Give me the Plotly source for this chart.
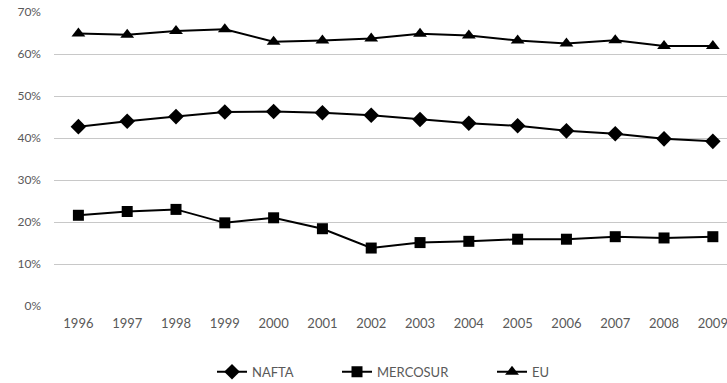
import plotly.graph_objects as go

years = ["1996","1997","1998","1999","2000","2001","2002","2003","2004","2005","2006","2007","2008","2009"]
nafta = [42.7, 44.0, 45.1, 46.2, 46.3, 46.0, 45.4, 44.4, 43.5, 42.9, 41.7, 41.0, 39.8, 39.2]
mercosur = [21.6, 22.5, 23.0, 19.8, 21.0, 18.4, 13.8, 15.1, 15.4, 15.9, 15.9, 16.5, 16.2, 16.5]
eu = [64.9, 64.6, 65.5, 65.9, 62.9, 63.2, 63.7, 64.8, 64.4, 63.2, 62.5, 63.3, 61.9, 61.9]
y_ticks = [0, 10, 20, 30, 40, 50, 60, 70]

x = list(range(len(years)))
fig = go.Figure()
series = [("NAFTA", nafta, "diamond", 12, "legend"),
          ("MERCOSUR", mercosur, "square", 11, "legend2"),
          ("EU", eu, "triangle-up", 12, "legend3")]
for name, vals, sym, size, lg in series:
    fig.add_trace(go.Scatter(x=x, y=vals, name=name, mode="lines+markers",
                             line=dict(color="black", width=2),
                             marker=dict(symbol=sym, size=size, color="black"),
                             legend=lg))

leg_common = dict(orientation="h", y=-0.224, yanchor="middle", xanchor="left",
                  font=dict(size=13, color="#595959"), bgcolor="rgba(0,0,0,0)")
fig.update_layout(
    width=727, height=383,
    margin=dict(l=54, r=0, t=12, b=77, autoexpand=False),
    paper_bgcolor="white", plot_bgcolor="white",
    font=dict(family="Lato, Liberation Sans, sans-serif", size=13, color="#595959"),
    showlegend=True,
    legend=dict(x=(212 - 54) / 673, **leg_common),
    legend2=dict(x=(337 - 54) / 673, **leg_common),
    legend3=dict(x=(492 - 54) / 673, **leg_common),
)
fig.update_xaxes(range=[-0.5, 13.29], tickmode="array", tickvals=x, ticktext=years,
                 showgrid=False, zeroline=False, showline=False, ticks="",
                 ticklabelstandoff=8, ticklabeloverflow="allow")
fig.update_yaxes(range=[0, 70], tickmode="array", tickvals=y_ticks,
                 ticktext=[f"{v}%" for v in y_ticks], tickfont=dict(size=12),
                 showgrid=True, gridcolor="#c8c8c8", gridwidth=1.3,
                 zeroline=False, showline=False, ticks="", ticklabelstandoff=12)
fig.write_html("out.html", config={"displayModeBar": False},
               post_script="document.body.style.margin='0';document.body.style.overflow='hidden';")
